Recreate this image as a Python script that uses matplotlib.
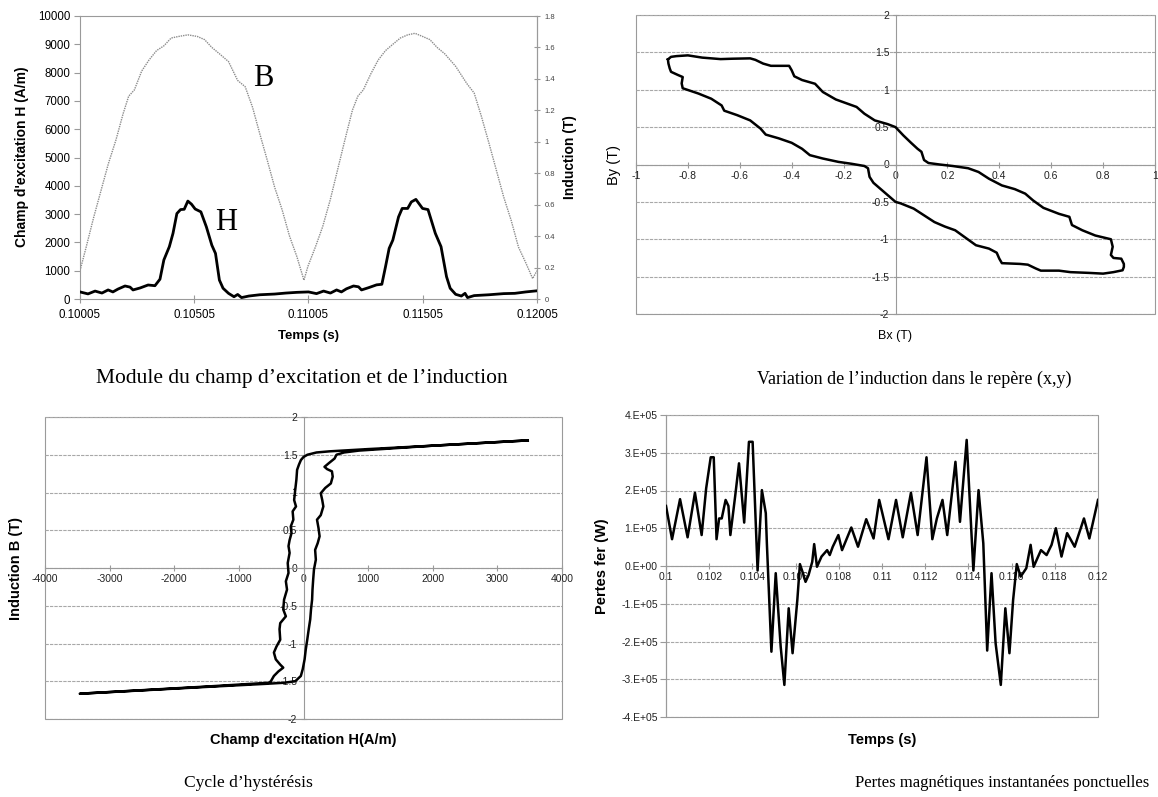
import matplotlib
matplotlib.use('Agg')
import matplotlib.pyplot as plt
from matplotlib.patches import Rectangle

plt.rcParams['font.family'] = ['Liberation Sans', 'DejaVu Sans']

# ---------------- Data ----------------
# Panel 1 : module of H (A/m) and B (T) vs time
t_H = [0.10005, 0.10040, 0.10071, 0.10101, 0.10128, 0.10149, 0.10171, 0.10202, 0.10224,
       0.10237, 0.10268, 0.10303, 0.10333, 0.10355, 0.10372, 0.10396, 0.10412, 0.10429,
       0.10445, 0.10461, 0.10477, 0.10493, 0.10509, 0.10534, 0.10558, 0.10582, 0.10598,
       0.10615, 0.10631, 0.10655, 0.10679, 0.10695, 0.10712, 0.10744, 0.10792, 0.10857,
       0.10906, 0.10954, 0.11005, 0.11040, 0.11071, 0.11101, 0.11128, 0.11149, 0.11171,
       0.11202, 0.11224, 0.11237, 0.11268, 0.11303, 0.11326, 0.11342, 0.11358, 0.11374,
       0.11399, 0.11415, 0.11439, 0.11455, 0.11475, 0.11504, 0.11528, 0.11560, 0.11585,
       0.11609, 0.11625, 0.11649, 0.11674, 0.11690, 0.11701, 0.11730, 0.11795, 0.11859,
       0.11908, 0.11956, 0.12005]
H_mod = [250, 180, 280, 210, 320, 250, 350, 460, 420,
         320, 390, 495, 470, 700, 1380, 1850, 2320, 3020,
         3160, 3170, 3460, 3350, 3180, 3080, 2550, 1900, 1610,
         670, 380, 200, 80, 160, 50, 105, 150, 175,
         210, 235, 250, 190, 280, 210, 320, 250, 360,
         460, 430, 320, 400, 500, 520, 1140, 1790, 2080,
         2900, 3200, 3200, 3430, 3520, 3200, 3160, 2320, 1850,
         790, 380, 165, 105, 200, 50, 120, 150, 190,
         200, 250, 290]

t_B = [0.10005, 0.10032, 0.10065, 0.10097, 0.10129, 0.10162, 0.10194, 0.10218, 0.10243,
       0.10275, 0.10307, 0.10340, 0.10372, 0.10404, 0.10437, 0.10477, 0.10518, 0.10550,
       0.10582, 0.10615, 0.10655, 0.10695, 0.10728, 0.10760, 0.10792, 0.10825, 0.10857,
       0.10889, 0.10922, 0.10954, 0.10985, 0.11003, 0.11035, 0.11067, 0.11100, 0.11132,
       0.11164, 0.11197, 0.11221, 0.11245, 0.11277, 0.11310, 0.11342, 0.11374, 0.11407,
       0.11439, 0.11471, 0.11504, 0.11536, 0.11568, 0.11601, 0.11649, 0.11698, 0.11730,
       0.11762, 0.11795, 0.11827, 0.11859, 0.11892, 0.11924, 0.11956, 0.11986, 0.12005]
B_mod = [0.18, 0.33, 0.52, 0.69, 0.86, 1.01, 1.18, 1.29, 1.33,
         1.45, 1.52, 1.58, 1.61, 1.66, 1.67, 1.68, 1.67, 1.65,
         1.60, 1.56, 1.51, 1.39, 1.35, 1.22, 1.05, 0.88, 0.71,
         0.57, 0.40, 0.27, 0.12, 0.21, 0.33, 0.46, 0.63, 0.82,
         1.01, 1.20, 1.29, 1.33, 1.43, 1.52, 1.58, 1.62, 1.66,
         1.68, 1.69, 1.67, 1.65, 1.60, 1.56, 1.48, 1.37, 1.31,
         1.16, 0.99, 0.82, 0.65, 0.50, 0.33, 0.23, 0.13, 0.18]
t1_ticks = [0.10005, 0.10505, 0.11005, 0.11505, 0.12005]
t1_labels = ['0.10005', '0.10505', '0.11005', '0.11505', '0.12005']
H_ticks = [0, 1000, 2000, 3000, 4000, 5000, 6000, 7000, 8000, 9000, 10000]
Bind_ticks = [0, 0.2, 0.4, 0.6, 0.8, 1.0, 1.2, 1.4, 1.6, 1.8]
Bind_labels = ['0', '0.2', '0.4', '0.6', '0.8', '1', '1.2', '1.4', '1.6', '1.8']

# Panel 2 : By vs Bx locus
Bx = [-0.877, -0.865, -0.844, -0.80, -0.745, -0.674, -0.63, -0.56, -0.54, -0.51, -0.48,
      -0.41, -0.40, -0.39, -0.36, -0.31, -0.28, -0.23, -0.19, -0.15, -0.12, -0.08, -0.03,
      0.0, 0.03, 0.06, 0.085, 0.10, 0.11, 0.127, 0.17, 0.22, 0.28, 0.32, 0.36, 0.41, 0.46,
      0.50, 0.53, 0.57, 0.63, 0.67, 0.68, 0.72, 0.77, 0.83, 0.837, 0.83, 0.84, 0.87, 0.88,
      0.88, 0.875, 0.84, 0.80, 0.745, 0.674, 0.63, 0.56, 0.54, 0.51, 0.48, 0.41, 0.40,
      0.39, 0.36, 0.31, 0.27, 0.23, 0.19, 0.15, 0.11, 0.07, 0.02, 0.0, -0.03, -0.06,
      -0.085, -0.10, -0.106, -0.12, -0.17, -0.22, -0.28, -0.33, -0.36, -0.40, -0.45, -0.50,
      -0.52, -0.56, -0.61, -0.66, -0.67, -0.71, -0.76, -0.82, -0.824, -0.82, -0.84, -0.865,
      -0.87, -0.875, -0.877]
By = [1.406, 1.44, 1.45, 1.46, 1.43, 1.41, 1.415, 1.42, 1.40, 1.35, 1.32,
      1.32, 1.26, 1.18, 1.13, 1.08, 0.97, 0.87, 0.82, 0.77, 0.68, 0.59, 0.54,
      0.50, 0.39, 0.29, 0.21, 0.17, 0.06, 0.02, 0.00, -0.02, -0.05, -0.10, -0.19, -0.28, -0.33,
      -0.39, -0.48, -0.58, -0.66, -0.70, -0.81, -0.88, -0.95, -1.00, -1.10, -1.21, -1.25, -1.26, -1.33,
      -1.37, -1.415, -1.44, -1.46, -1.45, -1.44, -1.42, -1.42, -1.39, -1.34, -1.33, -1.32, -1.26,
      -1.18, -1.125, -1.08, -0.98, -0.88, -0.83, -0.77, -0.68, -0.59, -0.52, -0.50, -0.41, -0.32,
      -0.245, -0.165, -0.05, -0.02, 0.01, 0.035, 0.08, 0.125, 0.21, 0.29, 0.35, 0.40,
      0.48, 0.59, 0.66, 0.72, 0.79, 0.88, 0.95, 1.02, 1.085, 1.17, 1.20, 1.24,
      1.285, 1.35, 1.406]
Bx_ticks = [-1, -0.8, -0.6, -0.4, -0.2, 0, 0.2, 0.4, 0.6, 0.8, 1]
Bx_labels = ['-1', '-0.8', '-0.6', '-0.4', '-0.2', '0', '0.2', '0.4', '0.6', '0.8', '1']
B_ticks = [-2, -1.5, -1, -0.5, 0, 0.5, 1, 1.5, 2]
B_labels = ['-2', '-1.5', '-1', '-0.5', '0', '0.5', '1', '1.5', '2']

# Panel 3 : hysteresis cycle B(H)
H_cyc = [3470, 2000, 1000, 400, 200, 60, 0, -40, -70, -99, -110, -128, -145, -116, -168,
         -157, -197, -186, -215, -232, -215, -244, -232, -273, -255, -301, -313, -273, -360,
         -371, -360, -418, -458, -429, -360, -313, -389, -458, -505, -534, -1500, -3462,
         -1500, -600, -300, -128, -41, -12, 17, 35, 58, 81, 104, 116, 133, 139, 150, 162,
         191, 180, 220, 249, 232, 209, 267, 307, 290, 267, 336, 423, 452, 440, 365, 325,
         394, 481, 510, 626, 858, 2000, 3470]
B_cyc = [1.69, 1.62, 1.575, 1.545, 1.53, 1.50, 1.47, 1.43, 1.37, 1.30, 1.17, 1.035, 0.90, 0.815,
         0.75, 0.64, 0.55, 0.46, 0.37, 0.29, 0.20, 0.066, -0.066, -0.176, -0.286, -0.42, -0.55,
         -0.64, -0.73, -0.81, -0.95, -1.04, -1.12, -1.21, -1.28, -1.32, -1.37, -1.43, -1.50,
         -1.52, -1.57, -1.665, -1.575, -1.535, -1.52, -1.50, -1.43, -1.34, -1.21, -1.08, -0.95,
         -0.81, -0.68, -0.55, -0.42, -0.29, -0.15, -0.02, 0.11, 0.24, 0.33, 0.42, 0.53, 0.64,
         0.70, 0.815, 0.90, 0.99, 1.06, 1.12, 1.21, 1.28, 1.31, 1.34, 1.39, 1.45, 1.50, 1.53,
         1.555, 1.62, 1.69]
Hc_ticks = [-4000, -3000, -2000, -1000, 0, 1000, 2000, 3000, 4000]

# Panel 4 : instantaneous iron losses (W)
t_P = [0.10000, 0.10028, 0.10065, 0.10100, 0.10134, 0.10165, 0.10186, 0.10207, 0.10221,
       0.10234, 0.10246, 0.10258, 0.10276, 0.10289, 0.10298, 0.10320, 0.10338, 0.10362,
       0.10384, 0.10401, 0.10424, 0.10444, 0.10462, 0.10467, 0.10488, 0.10508, 0.10531,
       0.10548, 0.10568, 0.10586, 0.10608, 0.10620, 0.10634, 0.10646, 0.10660, 0.10677,
       0.10686, 0.10699, 0.10720, 0.10746, 0.10758, 0.10772, 0.10798, 0.10815, 0.10858,
       0.10889, 0.10927, 0.10961, 0.10987, 0.11030, 0.11065, 0.11096, 0.11134, 0.11165,
       0.11206, 0.11233, 0.11254, 0.11280, 0.11302, 0.11340, 0.11361, 0.11392, 0.11423,
       0.11447, 0.11469, 0.11487, 0.11507, 0.11526, 0.11550, 0.11571, 0.11590, 0.11607,
       0.11624, 0.11642, 0.11668, 0.11688, 0.11702, 0.11736, 0.11762, 0.11785, 0.11805,
       0.11831, 0.11857, 0.11892, 0.11935, 0.11960, 0.12000]
P_fer = [159e3, 71e3, 177e3, 76e3, 194e3, 82e3, 206e3, 288e3, 288e3,
         71e3, 126e3, 126e3, 175e3, 159e3, 82e3, 184e3, 272e3, 115e3,
         329e3, 329e3, -12e3, 201e3, 140e3, 60e3, -227e3, -19e3, -214e3,
         -315e3, -112e3, -231e3, -90e3, 5e3, -19e3, -42e3, -24e3, 11e3,
         58e3, -2e3, 25e3, 42e3, 29e3, 51e3, 82e3, 42e3, 102e3,
         51e3, 124e3, 73e3, 175e3, 71e3, 175e3, 76e3, 194e3, 82e3,
         288e3, 71e3, 126e3, 175e3, 82e3, 276e3, 117e3, 334e3, -12e3,
         201e3, 60e3, -224e3, -19e3, -205e3, -315e3, -112e3, -231e3, -90e3,
         5e3, -28e3, -6e3, 56e3, -2e3, 42e3, 29e3, 56e3, 100e3,
         25e3, 87e3, 51e3, 126e3, 73e3, 175e3]
t4_ticks = [0.1, 0.102, 0.104, 0.106, 0.108, 0.11, 0.112, 0.114, 0.116, 0.118, 0.12]
t4_labels = ['0.1', '0.102', '0.104', '0.106', '0.108', '0.11', '0.112', '0.114', '0.116',
             '0.118', '0.12']
P_ticks = [-4e5, -3e5, -2e5, -1e5, 0, 1e5, 2e5, 3e5, 4e5]
P_labels = ['-4.E+05', '-3.E+05', '-2.E+05', '-1.E+05', '0.E+00', '1.E+05', '2.E+05',
            '3.E+05', '4.E+05']

# ---------------- Figure ----------------
W, HT = 1158, 797
fig = plt.figure(figsize=(W / 100, HT / 100), dpi=100)
fig.patch.set_facecolor('white')

SPINE = '#9a9a9a'
GRID = '#a8a8a8'
SERIF = ['Liberation Serif', 'DejaVu Serif']


def px_axes(x0, y0, x1, y1):
    return fig.add_axes([x0 / W, 1 - y1 / HT, (x1 - x0) / W, (y1 - y0) / HT])


def ftext(x, y, s, **kw):
    kw.setdefault('ha', 'center')
    kw.setdefault('va', 'center')
    fig.text(x / W, 1 - y / HT, s, **kw)


def frame(ax):
    ax.add_patch(Rectangle((0, 0), 1, 1, transform=ax.transAxes, fill=False,
                           ec=SPINE, lw=0.8, clip_on=False, zorder=0.5))


# ---- Panel 1 ----
ax1 = px_axes(80, 16, 537, 299)
ax1.plot(t_H, H_mod, color='black', lw=2.0, zorder=3)
ax1.set_xlim(0.10005, 0.12005)
ax1.set_ylim(0, 10000)
ax1.set_xticks(t1_ticks)
ax1.set_xticklabels(t1_labels)
ax1.set_yticks(H_ticks)
ax1.set_yticklabels([str(v) for v in H_ticks])
for s in ['left', 'bottom', 'right']:
    ax1.spines[s].set_color(SPINE)
    ax1.spines[s].set_linewidth(0.8)
ax1.spines['top'].set_color(SPINE)
ax1.spines['top'].set_linestyle((0, (1, 1)))
ax1.tick_params(axis='y', direction='out', length=4, width=0.8, color=SPINE,
                labelsize=8.3, pad=3)
ax1.tick_params(axis='x', direction='inout', length=6, width=0.8, color=SPINE,
                labelsize=8.3, pad=4)
ax1b = ax1.twinx()
ax1b.plot(t_B, B_mod, color='#8c8c8c', lw=1.0, ls=(0, (1, 0.7)), zorder=2)
ax1b.set_ylim(0, 1.8)
ax1b.set_yticks(Bind_ticks)
ax1b.set_yticklabels(Bind_labels)
for s in ['left', 'bottom', 'top']:
    ax1b.spines[s].set_visible(False)
ax1b.spines['right'].set_color(SPINE)
ax1b.tick_params(axis='y', direction='inout', length=5, width=0.8, color=SPINE,
                 labelsize=5.5, labelcolor='#444444', pad=3)
ax1.set_zorder(ax1b.get_zorder() + 1)
ax1.patch.set_visible(False)
ftext(22, 157, "Champ d'excitation H (A/m)", rotation=90, fontsize=10, fontweight='bold')
ftext(570, 157, "Induction (T)", rotation=90, fontsize=10, fontweight='bold')
ftext(308, 336, "Temps (s)", fontsize=9.5, fontweight='bold')
ftext(263, 78, "B", fontsize=22, family=SERIF)
ftext(226, 223, "H", fontsize=22, family=SERIF)
ftext(302, 379, "Module du champ d\u2019excitation et de l\u2019induction", fontsize=15.5,
      family=SERIF)

# ---- Panel 2 ----
ax2 = px_axes(636, 15, 1155, 314)
ax2.plot(Bx, By, color='black', lw=1.8, zorder=3)
ax2.set_xlim(-1, 1)
ax2.set_ylim(-2, 2)
ax2.set_xticks(Bx_ticks)
ax2.set_xticklabels(Bx_labels)
ax2.set_yticks(B_ticks)
ax2.set_yticklabels(B_labels)
ax2.spines['left'].set_position(('data', 0))
ax2.spines['bottom'].set_position(('data', 0))
ax2.spines['top'].set_visible(False)
ax2.spines['right'].set_visible(False)
for s in ['left', 'bottom']:
    ax2.spines[s].set_color(SPINE)
    ax2.spines[s].set_linewidth(0.8)
frame(ax2)
ax2.yaxis.grid(True, color=GRID, lw=0.8, ls=(0, (3, 1)))
ax2.set_axisbelow(True)
ax2.tick_params(direction='inout', length=5, width=0.8, color=SPINE, labelsize=7.5,
                labelcolor='#222222', pad=2)
ftext(614, 165, "By (T)", rotation=90, fontsize=10.5)
ftext(895, 336, "Bx (T)", fontsize=9)
ftext(914, 379, "Variation de l\u2019induction dans le rep\u00e8re (x,y)", fontsize=13,
      family=SERIF)

# ---- Panel 3 ----
ax3 = px_axes(45, 417, 562, 719)
ax3.plot(H_cyc, B_cyc, color='black', lw=1.8, zorder=3)
ax3.set_xlim(-4000, 4000)
ax3.set_ylim(-2, 2)
ax3.set_xticks(Hc_ticks)
ax3.set_xticklabels([str(v) for v in Hc_ticks])
ax3.set_yticks(B_ticks)
ax3.set_yticklabels(B_labels)
ax3.spines['left'].set_position(('data', 0))
ax3.spines['bottom'].set_position(('data', 0))
ax3.spines['top'].set_visible(False)
ax3.spines['right'].set_visible(False)
for s in ['left', 'bottom']:
    ax3.spines[s].set_color(SPINE)
    ax3.spines[s].set_linewidth(0.8)
frame(ax3)
ax3.yaxis.grid(True, color=GRID, lw=0.8, ls=(0, (3, 1)))
ax3.set_axisbelow(True)
ax3.tick_params(direction='inout', length=5, width=0.8, color=SPINE, labelsize=7.5,
                labelcolor='#222222', pad=2)
ftext(16, 568, "Induction B (T)", rotation=90, fontsize=10.5, fontweight='bold')
ftext(303, 740, "Champ d'excitation H(A/m)", fontsize=10.5, fontweight='bold')
ftext(248, 783, "Cycle d\u2019hyst\u00e9r\u00e9sis", fontsize=12.6, family=SERIF)

# ---- Panel 4 ----
ax4 = px_axes(666, 415, 1098, 717)
ax4.plot(t_P, P_fer, color='black', lw=1.8, zorder=3)
ax4.set_xlim(0.1, 0.12)
ax4.set_ylim(-4e5, 4e5)
ax4.set_xticks(t4_ticks)
ax4.set_xticklabels(t4_labels)
ax4.set_yticks(P_ticks)
ax4.set_yticklabels(P_labels)
ax4.spines['bottom'].set_position(('data', 0))
ax4.spines['top'].set_visible(False)
ax4.spines['right'].set_visible(False)
for s in ['left', 'bottom']:
    ax4.spines[s].set_color(SPINE)
    ax4.spines[s].set_linewidth(0.8)
frame(ax4)
ax4.yaxis.grid(True, color=GRID, lw=0.8, ls=(0, (3, 1)))
ax4.set_axisbelow(True)
ax4.tick_params(axis='x', direction='inout', length=5, width=0.8, color=SPINE,
                labelsize=7.5, labelcolor='#222222', pad=2)
ax4.tick_params(axis='y', direction='out', length=4, width=0.8, color=SPINE,
                labelsize=7.5, labelcolor='#222222', pad=2)
ftext(602, 566, "Pertes fer (W)", rotation=90, fontsize=10.5, fontweight='bold')
ftext(882, 740, "Temps (s)", fontsize=10.5, fontweight='bold')
ftext(1002, 783, "Pertes magn\u00e9tiques instantan\u00e9es ponctuelles", fontsize=12,
      family=SERIF)

fig.savefig('out.png', dpi=100, facecolor='white')
